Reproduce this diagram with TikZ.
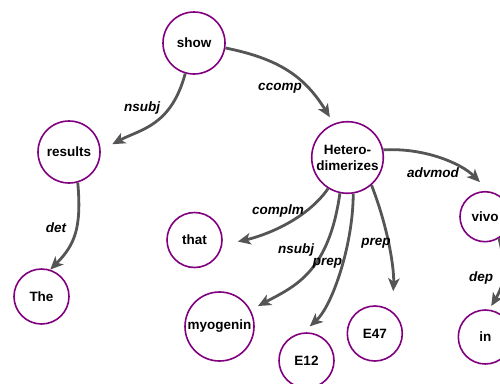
\documentclass[tikz,border=0pt]{standalone}
\usepackage{fontspec}
\setmainfont{Liberation Sans}
\usetikzlibrary{arrows.meta}
\definecolor{wordpurple}{HTML}{800080}
\definecolor{arcgray}{HTML}{555555}
\begin{document}
\begin{tikzpicture}[x=1pt,y=1pt,
 word/.style={circle,draw=wordpurple,line width=1.6pt,inner sep=0pt,align=center,
   font=\fontsize{13.5}{16}\selectfont\bfseries},
 deparc/.style={draw=arcgray,line width=2.8pt,-{Stealth[length=13pt,width=11.5pt,inset=3.5pt]}},
 lbl/.style={font=\fontsize{13.5}{16}\selectfont\bfseries\itshape,inner sep=0pt}]
\useasboundingbox (0,0) rectangle (500,-383);
% words
\node[word,minimum size=62pt] (show) at (194,-43) {show};
\node[word,minimum size=62pt] (results) at (69,-152) {results};
\node[word,minimum size=55pt] (The) at (41.5,-296.5) {The};
\node[word,minimum size=71.6pt] (hetero) at (347.5,-157.5) {Hetero-\\dimerizes};
\node[word,minimum size=55pt] (that) at (194.5,-240) {that};
\node[word,minimum size=69pt] (myogenin) at (219.5,-326.5) {myogenin};
\node[word,minimum size=55pt] (E12) at (306.5,-360.5) {E12};
\node[word,minimum size=55pt] (E47) at (374.8,-333.5) {E47};
\node[word,minimum size=50pt] (vivo) at (485,-216.7) {vivo};
\node[word,minimum size=54pt] (in) at (485.3,-337) {in};
% dependencies
\draw[deparc,shorten >=13pt] (show.-106) .. controls +(-14.3,-52.8) and +(39.6,21.1) .. (results.3);
\draw[deparc,shorten >=7.5pt] (show.-9) .. controls +(53.9,-10.8) and +(-29,46.8) .. (hetero.112);
\draw[deparc,shorten >=12.8pt] (hetero.12) .. controls +(40,2.4) and +(-28.3,28.3) .. (vivo.81);
\draw[deparc] (results.-74) .. controls +(4,-45) and +(24.7,24.7) .. (The.72);
\draw[deparc,shorten >=15.8pt] (hetero.-122) .. controls +(-22.8,-32.8) and +(39.1,8.5) .. (that.-10);
\draw[deparc,shorten >=8.3pt] (hetero.-102) .. controls +(-11.2,-79.2) and +(44,23.5) .. (myogenin.28);
\draw[deparc,shorten >=9pt] (hetero.-81) .. controls +(0,-50) and +(29.6,26.8) .. (E12.97);
\draw[deparc,shorten >=20pt] (hetero.-49) .. controls +(18,-46.5) and +(2,40) .. (E47.52);
\draw[deparc,shorten >=4pt] (vivo.-57) .. controls +(6,-25) and +(18,30) .. (in.82);
% labels
\node[lbl] (l1) at (142,-108) {nsubj};
\node[lbl] (l2) at (280,-88) {ccomp};
\node[lbl] (l3) at (433,-173) {advmod};
\node[lbl] (l4) at (56,-228) {det};
\node[lbl] (l5) at (278,-211) {complm};
\node[lbl] (l6) at (296,-250.5) {nsubj};
\node[lbl] (l7) at (327.5,-263) {prep};
\node[lbl] (l8) at (376,-243) {prep};
\node[lbl] (l9) at (481,-278) {dep};
\end{tikzpicture}
\end{document}
